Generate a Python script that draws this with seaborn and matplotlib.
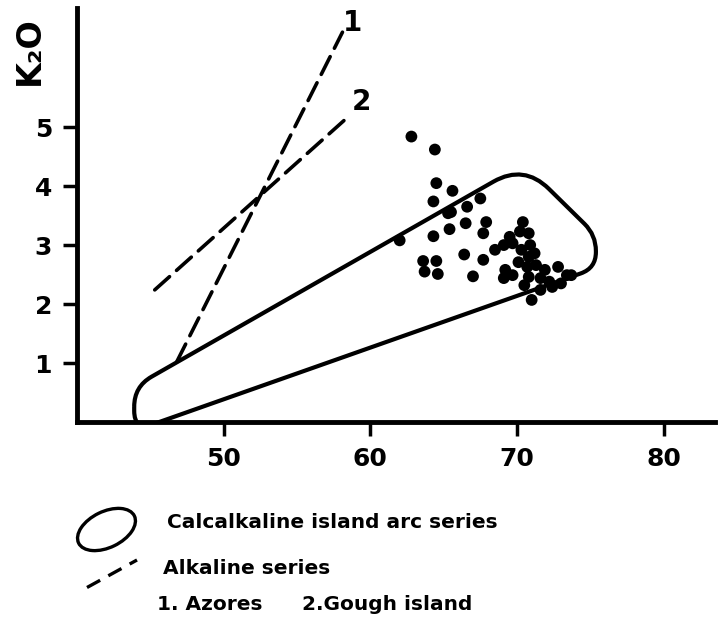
import numpy as np
import pandas as pd
import matplotlib
matplotlib.use("Agg")
import matplotlib.pyplot as plt
import seaborn as sns
from matplotlib.path import Path
from matplotlib.patches import PathPatch, Ellipse
from matplotlib.lines import Line2D

# ---------------- data ----------------
sample_sio2 = [62.8, 64.4, 64.5, 65.6, 64.3, 65.5, 66.6, 67.5, 62.0, 64.3,
               65.4, 66.5, 67.7, 67.9, 63.6, 64.5, 63.7, 64.6, 66.4, 67.7,
               67.0, 65.3, 70.4, 70.2, 70.8, 69.5, 68.5, 69.1, 69.7, 69.2,
               69.7, 69.1, 70.3, 70.8, 71.2, 70.7, 71.3, 71.9, 70.8, 71.6,
               72.2, 72.8, 73.4, 72.4, 71.0, 73.7, 73.0, 70.9, 70.5, 70.1,
               71.6]
sample_k2o = [4.84, 4.62, 4.05, 3.92, 3.74, 3.56, 3.65, 3.79, 3.08, 3.15,
              3.27, 3.37, 3.20, 3.39, 2.73, 2.73, 2.55, 2.51, 2.84, 2.75,
              2.47, 3.54, 3.39, 3.23, 3.20, 3.14, 2.92, 3.00, 3.03, 2.58,
              2.49, 2.44, 2.92, 2.80, 2.86, 2.63, 2.66, 2.58, 2.46, 2.44,
              2.38, 2.63, 2.49, 2.29, 2.07, 2.49, 2.35, 3.00, 2.32, 2.71,
              2.24]

azores_sio2 = [46.8, 58.1]
azores_k2o = [1.02, 6.61]
gough_sio2 = [45.3, 58.6]
gough_k2o = [2.24, 5.20]

# corners of the calc-alkaline island arc envelope
envelope_sio2 = [43.9, 70.47, 75.38, 75.38, 43.9]
envelope_k2o = [0.60, 4.37, 3.17, 2.61, -0.15]

x_ticks = [50, 60, 70, 80]
y_ticks = [1, 2, 3, 4, 5]
line_labels = ["1", "2"]

df = pd.DataFrame({"SiO2": sample_sio2, "K2O": sample_k2o})

# ---------------- style ----------------
sns.set_theme(style="ticks")
plt.rcParams["font.family"] = ["DejaVu Sans"]
plt.rcParams["font.weight"] = "bold"
plt.rcParams["text.color"] = "black"
plt.rcParams["axes.labelcolor"] = "black"
plt.rcParams["xtick.color"] = "black"
plt.rcParams["ytick.color"] = "black"
plt.rcParams["axes.linewidth"] = 3.5

fig = plt.figure(figsize=(7.18, 6.25), dpi=100)
ax = fig.add_axes([77 / 718, (625 - 422) / 625, 638 / 718, (422 - 8) / 625])
ax.set_xlim(40, 83.5)
ax.set_ylim(0, 7.02)

for s in ["top", "right"]:
    ax.spines[s].set_visible(False)
for s in ["left", "bottom"]:
    ax.spines[s].set_color("black")
    ax.spines[s].set_linewidth(3.5)

ax.set_xticks(x_ticks)
ax.set_yticks(y_ticks)
ax.tick_params(axis="both", direction="out", length=10, width=2.5,
               colors="black", labelsize=18, pad=8)
for lab in ax.get_xticklabels() + ax.get_yticklabels():
    lab.set_fontweight("bold")

# ---------------- envelope (rounded polygon) ----------------
fig.canvas.draw()
radii = [20, 35, 16, 16, 20]
P = ax.transData.transform(np.column_stack([envelope_sio2, envelope_k2o]))
n = len(P)
verts, codes = [], []
for i in range(n):
    prev, cur, nxt = P[i - 1], P[i], P[(i + 1) % n]
    d1 = (prev - cur) / np.linalg.norm(prev - cur)
    d2 = (nxt - cur) / np.linalg.norm(nxt - cur)
    r = radii[i]
    a = cur + d1 * r
    b = cur + d2 * r
    verts.append(a)
    codes.append(Path.MOVETO if i == 0 else Path.LINETO)
    verts += [cur, b]
    codes += [Path.CURVE3, Path.CURVE3]
verts.append(verts[0])
codes.append(Path.LINETO)
verts_data = ax.transData.inverted().transform(np.array(verts))
env = PathPatch(Path(verts_data, codes), facecolor="none", edgecolor="black",
                lw=3.0, zorder=2, joinstyle="round")
ax.add_patch(env)

# ---------------- alkaline series lines ----------------
for xs, ys in [(azores_sio2, azores_k2o), (gough_sio2, gough_k2o)]:
    sns.lineplot(x=xs, y=ys, ax=ax, color="black", lw=2.6, sort=False,
                 estimator=None, linestyle=(0, (5.5, 2.6)),
                 dash_capstyle="round", zorder=3)

ax.text(azores_sio2[1] + 0.65, azores_k2o[1] + 0.15, line_labels[0],
        fontsize=20, fontweight="bold", ha="center", va="center",
        color="black")
ax.text(gough_sio2[1] + 0.8, gough_k2o[1] + 0.22, line_labels[1],
        fontsize=20, fontweight="bold", ha="center", va="center",
        color="black")

# ---------------- samples ----------------
sns.scatterplot(data=df, x="SiO2", y="K2O", ax=ax, color="black", s=72,
                edgecolor="none", linewidth=0, zorder=4, legend=False)
ax.set_xlabel("")
ax.set_ylabel("K\u2082O", fontsize=24, fontweight="bold", rotation=90,
              ha="center", va="center", color="black")
ax.yaxis.set_label_coords(-0.074, 0.898)

# ---------------- legend (drawn below the axes) ----------------
tr = fig.dpi_scale_trans
fig.add_artist(Ellipse((1.065, 0.955), 0.62, 0.36, angle=26, transform=tr,
                       facecolor="none", edgecolor="black", lw=2.4))
fig.add_artist(Line2D([0.87, 1.37], [0.375, 0.65], transform=tr,
                      color="black", lw=2.4, linestyle=(0, (4.5, 2.8))))
fs = 14.5
fig.text(167 / 718, 1 - 523 / 625, "Calcalkaline island arc series",
         fontsize=fs, fontweight="bold", ha="left", va="center", color="black")
fig.text(163 / 718, 1 - 568 / 625, "Alkaline series",
         fontsize=fs, fontweight="bold", ha="left", va="center", color="black")
fig.text(157 / 718, 1 - 604 / 625, "1. Azores",
         fontsize=fs, fontweight="bold", ha="left", va="center", color="black")
fig.text(302 / 718, 1 - 604 / 625, "2.Gough island",
         fontsize=fs, fontweight="bold", ha="left", va="center", color="black")

fig.savefig("out.png", dpi=100, facecolor="white")
